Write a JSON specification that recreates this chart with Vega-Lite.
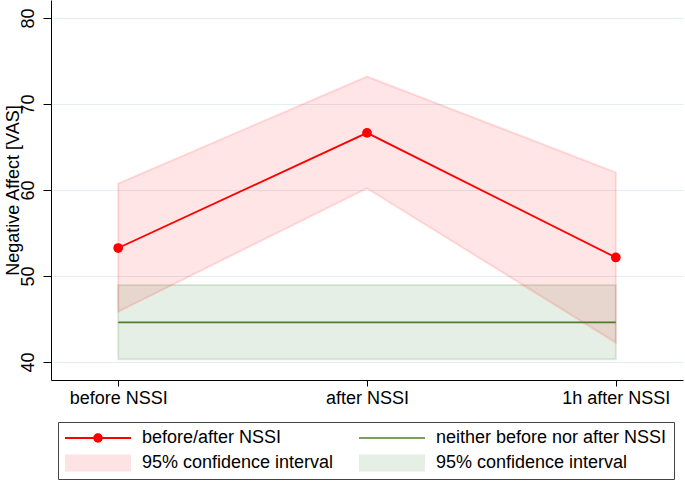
{
  "$schema": "https://vega.github.io/schema/vega-lite/v6.json",
  "width": 632,
  "height": 380,
  "autosize": "none",
  "padding": {"left": 51, "top": 0, "right": 2, "bottom": 107},
  "config": {
    "font": "Liberation Sans",
    "view": {"stroke": null},
    "axis": {"labelFont": "Liberation Sans", "titleFont": "Liberation Sans", "labelColor": "#000", "titleColor": "#000", "domainColor": "#000", "tickColor": "#000", "labelFontSize": 18, "titleFontSize": 18, "titleFontWeight": "normal"}
  },
  "datasets": {
    "nssi": [
      {"time": "before NSSI", "mean": 53.25, "lo": 45.85, "hi": 60.75, "series": "a"},
      {"time": "after NSSI", "mean": 66.65, "lo": 60.2, "hi": 73.2, "series": "a"},
      {"time": "1h after NSSI", "mean": 52.15, "lo": 42.25, "hi": 62.05, "series": "a"}
    ],
    "neither": [
      {"time": "before NSSI", "mean": 44.6, "lo": 40.3, "hi": 48.95, "series": "b"},
      {"time": "1h after NSSI", "mean": 44.6, "lo": 40.3, "hi": 48.95, "series": "b"}
    ]
  },
  "encoding": {
    "x": {
      "field": "time", "type": "ordinal",
      "sort": ["before NSSI", "after NSSI", "1h after NSSI"],
      "scale": {"type": "point", "padding": 0.27, "domain": ["before NSSI", "after NSSI", "1h after NSSI"]},
      "axis": {"title": null, "labelAngle": 0, "tickSize": 6, "labelPadding": 3, "grid": false, "domainWidth": 1, "tickWidth": 1}
    }
  },
  "layer": [
    {
      "data": {"name": "neither"},
      "mark": {"type": "area", "fill": "#006400", "fillOpacity": 0.1, "stroke": "#006400", "strokeOpacity": 0.12, "strokeWidth": 2},
      "encoding": {
        "y": {"field": "lo", "type": "quantitative",
          "scale": {"domain": [37.9, 82.1], "nice": false, "zero": false},
          "axis": {"title": "Negative Affect [VAS]", "values": [40, 50, 60, 70, 80], "labelAngle": -90, "tickSize": 8, "labelPadding": 6, "titlePadding": -3,
            "grid": true, "gridColor": "#e3eef1", "gridWidth": 1}},
        "y2": {"field": "hi"}
      }
    },
    {
      "data": {"name": "nssi"},
      "mark": {"type": "area", "fill": "#ff0000", "fillOpacity": 0.1, "stroke": "#ff0000", "strokeOpacity": 0.12, "strokeWidth": 2},
      "encoding": {
        "y": {"field": "lo", "type": "quantitative"},
        "y2": {"field": "hi"}
      }
    },
    {
      "data": {"name": "neither"},
      "mark": {"type": "line", "strokeWidth": 1.6, "color": "#4f7d28"},
      "encoding": {
        "y": {"field": "mean", "type": "quantitative"}
      }
    },
    {
      "data": {"name": "nssi"},
      "mark": {"type": "line", "strokeWidth": 1.8, "color": "#ff0000", "point": {"filled": true, "size": 95, "opacity": 1, "color": "#ff0000"}},
      "encoding": {
        "y": {"field": "mean", "type": "quantitative"}
      }
    },
    {
      "data": {"name": "nssi"},
      "mark": {"type": "point", "filled": true, "opacity": 0},
      "encoding": {
        "y": {"field": "mean", "type": "quantitative"},
        "color": {"field": "series", "type": "nominal",
          "scale": {"domain": ["a", "b", "c", "d"], "range": ["#ff0000", "#4f7d28", "#fde3e3", "#e6efe5"]},
          "legend": {
            "orient": "none", "legendX": 7, "legendY": 422, "direction": "horizontal", "columns": 2,
            "title": null, "strokeColor": "#444444", "padding": 7,
            "columnPadding": 25, "rowPadding": 7, "labelOffset": 59,
            "labelFont": "Liberation Sans", "labelFontSize": 18, "labelColor": "#000", "labelLimit": 400,
            "symbolSize": 324, "symbolOpacity": 1, "symbolStrokeWidth": 0,
            "labelExpr": "datum.value == 'a' ? 'before/after NSSI' : datum.value == 'b' ? 'neither before nor after NSSI' : '95% confidence interval'"
          }
        },
        "shape": {"field": "series", "type": "nominal",
          "scale": {"domain": ["a", "b", "c", "d"], "range": [
            "M-1,-0.1H6.333V0.1H-1Z M3.189,0A0.522,0.522 0 1,1 2.145,0A0.522,0.522 0 1,1 3.189,0Z",
            "M-1,-0.09H6.333V0.09H-1Z",
            "M-1,-0.944H6.333V0.944H-1Z",
            "M-1,-0.944H6.333V0.944H-1Z"
          ]},
          "legend": {
            "orient": "none", "legendX": 7, "legendY": 422, "direction": "horizontal", "columns": 2,
            "title": null, "strokeColor": "#444444", "padding": 7,
            "columnPadding": 25, "rowPadding": 7, "labelOffset": 59,
            "labelFont": "Liberation Sans", "labelFontSize": 18, "labelColor": "#000", "labelLimit": 400,
            "symbolSize": 324, "symbolOpacity": 1, "symbolStrokeWidth": 0,
            "labelExpr": "datum.value == 'a' ? 'before/after NSSI' : datum.value == 'b' ? 'neither before nor after NSSI' : '95% confidence interval'"
          }
        }
      }
    }
  ]
}
